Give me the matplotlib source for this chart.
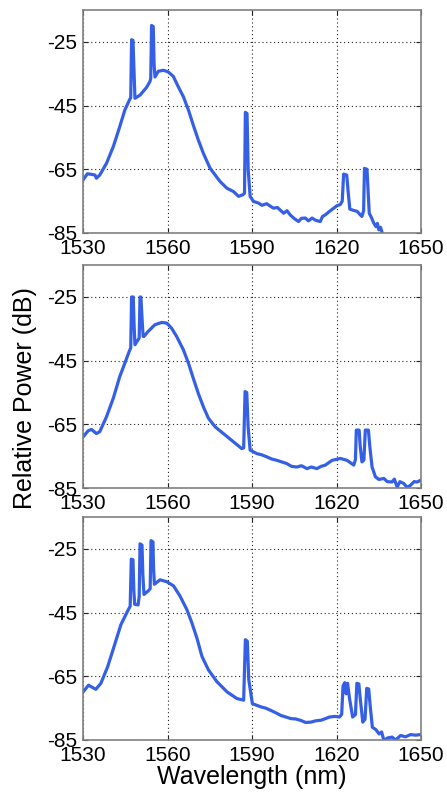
import matplotlib
matplotlib.use("Agg")
import matplotlib.pyplot as plt

plt.rcParams['font.family'] = ['Liberation Sans', 'DejaVu Sans']

# espectro 1: duas linhas em 1547 / 1554 nm
wl_a = [1530, 1531.5, 1533, 1534.2, 1534.7, 1535.9, 1538.3, 1540.7, 1543.0, 1544.8, 1546.4,
        1546.9, 1547.2, 1547.7, 1548.1, 1548.4, 1550.2, 1552.5, 1553.7,
        1554.0, 1554.3, 1554.9, 1555.2, 1555.5, 1556.7, 1558.5, 1560.2, 1562.0, 1563.8,
        1565.6, 1567.4, 1569.1, 1570.9, 1572.7, 1575.1, 1578.6, 1581.0, 1583.4, 1585.2,
        1586.7, 1587.3, 1587.6, 1588.2, 1588.6, 1589.3, 1590.5, 1592.3, 1593.5, 1595.2,
        1596.5, 1597.6, 1599.0, 1601.2, 1602.4, 1603.5, 1605.0, 1606.5, 1607.5, 1608.9,
        1610.0, 1611.3, 1612.5, 1614.2, 1615.0, 1616.0, 1617.5, 1619.0, 1620.2, 1621.3,
        1622.0, 1622.5, 1623.6, 1624.1, 1624.7, 1626.0, 1627.3, 1628.3, 1629.0, 1629.6,
        1629.9, 1630.8, 1631.2, 1631.6, 1632.4, 1633.2, 1634.0, 1634.5, 1635.0, 1635.6,
        1636.2, 1637.0, 1640, 1645, 1650]
pw_a = [-68.3, -66.4, -66.6, -66.8, -67.8, -66.8, -63.1, -57.9, -51.6, -46.4, -43.3,
        -42.5, -24.3, -24.5, -35.0, -42.7, -41.7, -39.3, -37.5,
        -36.5, -19.8, -20.2, -32.0, -36.0, -34.2, -33.9, -34.4, -35.8, -39.1,
        -42.2, -46.4, -51.1, -55.8, -60.0, -64.7, -68.8, -70.9, -72.0, -73.5,
        -73.0, -72.5, -47.1, -47.5, -65.0, -73.5, -75.1, -75.6, -76.3, -75.8,
        -76.6, -77.2, -77.0, -78.8, -78.0, -79.3, -80.5, -81.4, -80.4, -80.3,
        -81.2, -80.3, -81.0, -81.4, -79.8, -79.3, -78.2, -77.2, -76.4, -76.1,
        -75.0, -66.5, -66.8, -72.0, -77.5, -77.9, -78.2, -79.2, -79.8, -78.0,
        -64.7, -65.0, -72.0, -78.8, -80.2, -81.9, -83.0, -82.0, -84.0, -83.2,
        -85.0, -88, -90, -90, -90]

# espectro 2: duas linhas proximas em 1547 / 1550 nm
wl_b = [1530, 1531.8, 1533, 1534.7, 1535.9, 1538.3, 1540.7, 1543.0, 1544.8, 1546.4,
        1546.9, 1547.2, 1547.8, 1548.1, 1548.4, 1549.9, 1550.2, 1550.5, 1551.0, 1551.3,
        1551.6, 1553.1, 1555.5, 1557.9, 1559.7, 1561.4, 1563.2, 1565.6, 1567.4, 1569.1,
        1570.9, 1572.7, 1574.5, 1576.9, 1579.8, 1583.4, 1586.3, 1587.0, 1587.5, 1588.1,
        1588.6, 1589.3, 1591.7, 1593.5, 1595.2, 1597.0, 1598.8, 1600.5, 1602.3, 1604.0,
        1605.9, 1607.5, 1609.5, 1611.0, 1613.0, 1614.5, 1616.0, 1618.4, 1620.0, 1621.3,
        1623.7, 1626.1, 1626.7, 1627.0, 1628.0, 1628.4, 1629.0, 1629.7, 1630.2, 1631.3,
        1631.8, 1632.6, 1633.8, 1635.0, 1636.8, 1638.0, 1639.7, 1640.5, 1641.5, 1642.5,
        1643.9, 1645.0, 1646.3, 1647.5, 1648.6, 1650]
pw_b = [-68.9, -67.0, -66.6, -67.9, -67.3, -62.6, -56.8, -50.0, -45.8, -42.0,
        -41.0, -25.0, -25.0, -34.0, -40.0, -37.9, -25.0, -25.0, -33.0, -37.4,
        -37.4, -35.8, -33.7, -33.0, -33.2, -34.8, -37.4, -41.6, -45.8, -50.5,
        -55.3, -59.5, -63.1, -65.8, -67.9, -70.5, -72.6, -72.4, -54.7, -55.0,
        -66.0, -73.1, -74.2, -74.6, -75.2, -75.9, -76.3, -76.8, -77.3, -78.2,
        -78.4, -78.0, -78.9, -78.4, -78.9, -78.2, -77.8, -76.3, -76.0, -75.7,
        -76.3, -77.8, -76.0, -66.8, -66.8, -72.0, -76.8, -76.2, -66.8, -66.8,
        -72.0, -78.4, -81.5, -82.3, -82.0, -83.0, -83.1, -82.2, -84.7, -83.0,
        -83.6, -84.8, -84.1, -83.0, -83.1, -82.5]

# espectro 3: tres linhas em 1547 / 1550 / 1554 nm
wl_c = [1530, 1531.9, 1534.5, 1536.3, 1538.7, 1541.0, 1543.4, 1545.8, 1546.7,
        1547.1, 1547.7, 1548.0, 1548.3, 1549.5, 1549.9, 1550.2, 1550.9, 1551.2, 1551.6,
        1553.1, 1553.8, 1554.1, 1554.8, 1555.0, 1555.3, 1557.3, 1559.7, 1562.1, 1564.4,
        1566.8, 1568.6, 1570.4, 1572.2, 1574.5, 1577.5, 1581.1, 1584.6, 1587.0, 1587.6,
        1588.3, 1588.8, 1590.1, 1593.1, 1594.8, 1596.6, 1598.5, 1600.2, 1602.0, 1603.8,
        1605.5, 1607.4, 1609.0, 1610.9, 1612.5, 1614.5, 1617.5, 1619.5, 1621.0, 1621.8,
        1622.3, 1622.9, 1623.4, 1623.9, 1624.6, 1625.7, 1626.7, 1627.2, 1627.9, 1628.4,
        1629.3, 1630.1, 1630.7, 1631.4, 1631.9, 1632.7, 1634.0, 1635.1, 1636.0, 1636.8,
        1638.0, 1639.7, 1641.0, 1642.7, 1644.5, 1646.3, 1648.0, 1650]
pw_c = [-69.9, -67.8, -69.1, -67.2, -62.0, -55.6, -48.8, -44.5, -43.0,
        -28.2, -28.4, -38.0, -42.4, -42.6, -40.0, -23.4, -23.8, -33.0, -39.3,
        -38.2, -37.5, -22.4, -22.8, -31.0, -36.1, -34.7, -35.3, -36.6, -39.8,
        -44.0, -48.2, -53.0, -58.8, -63.0, -66.7, -69.9, -72.0, -72.5, -53.5,
        -54.0, -66.0, -73.6, -74.6, -75.0, -75.7, -76.5, -77.3, -77.8, -78.3,
        -78.4, -78.9, -79.5, -79.4, -79.0, -78.8, -77.8, -77.6, -77.8, -77.0,
        -68.0, -67.0, -70.5, -67.2, -72.0, -77.8, -77.0, -67.2, -67.4, -72.0,
        -79.4, -78.5, -68.8, -69.0, -74.0, -81.0, -81.8, -83.1, -82.5, -85.2,
        -84.4, -84.1, -85.0, -83.6, -84.0, -83.3, -83.5, -83.3]

espectros = [(wl_a, pw_a), (wl_b, pw_b), (wl_c, pw_c)]
xticks = [1530, 1560, 1590, 1620, 1650]
yticks = [-85, -65, -45, -25]
cor = '#3560e6'

fig = plt.figure(figsize=(4.47, 7.96), dpi=100)

# posicoes dos tres paineis (em fracao da figura)
fundos = [0.7073, 0.3869, 0.0704]
eixos = []
for b, (wl, pw) in zip(fundos, espectros):
    ax = fig.add_axes([0.186, b, 0.756, 0.280])
    ax.plot(wl, pw, color=cor, lw=2.3, solid_joinstyle='round')
    ax.set_xlim(1530, 1650)
    ax.set_ylim(-85, -15)
    ax.set_xticks(xticks)
    ax.set_yticks(yticks)
    ax.set_xticklabels([str(t) for t in xticks])
    ax.set_yticklabels([str(t) for t in yticks])
    ax.grid(True, color='#222222', linestyle=(0, (1, 2.5)), linewidth=0.8)
    ax.tick_params(direction='in', length=3.5, width=0.8, top=True, right=True,
                   labelsize=15, pad=4, colors='#222222', labelcolor='black')
    for s in ax.spines.values():
        s.set_color('#808080')
        s.set_linewidth(1.2)
    eixos.append(ax)

eixos[-1].set_xlabel('Wavelength (nm)', fontsize=18, labelpad=0)
fig.text(0.055, 0.5, 'Relative Power (dB)', rotation=90, fontsize=18,
         ha='center', va='center')

fig.savefig('out.png', dpi=100)
